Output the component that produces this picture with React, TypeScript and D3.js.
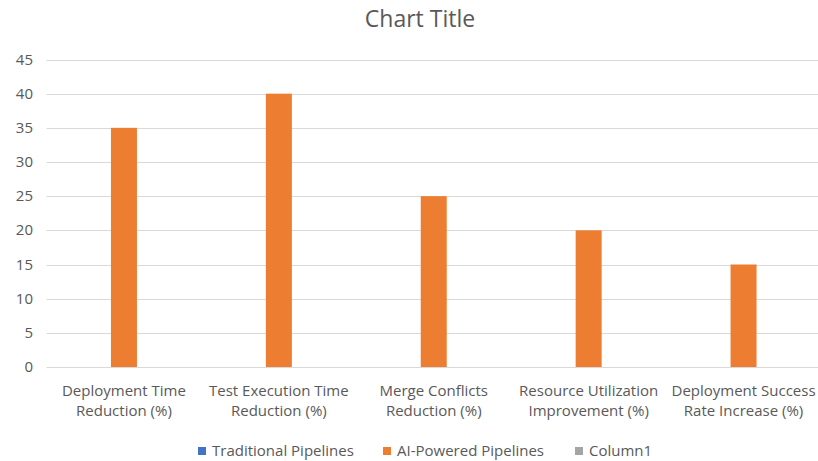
import React from 'react'
import * as d3 from 'd3'

const categories = [
  ['Deployment Time', 'Reduction (%)'],
  ['Test Execution Time', 'Reduction (%)'],
  ['Merge Conflicts', 'Reduction (%)'],
  ['Resource Utilization', 'Improvement (%)'],
  ['Deployment Success', 'Rate Increase (%)'],
]
const seriesNames = ['Traditional Pipelines', 'AI-Powered Pipelines', 'Column1']
const seriesColors = ['#4472C4', '#ED7D31', '#A5A5A5']
const traditional = [0, 0, 0, 0, 0]
const aiPowered = [35, 40, 25, 20, 15]
const column1 = [0, 0, 0, 0, 0]
const yTicks = [0, 5, 10, 15, 20, 25, 30, 35, 40, 45]

const width = 818
const height = 461
const font = '"Open Sans", sans-serif'
const textColor = '#595959'

export default function App() {
  const values = [traditional, aiPowered, column1]
  const labels = categories.map(c => c.join(' '))

  const x = d3.scaleBand().domain(labels).range([46.5, 821])
  const x1 = d3.scaleBand().domain(seriesNames).range([0, 78])
  const y = d3.scaleLinear().domain([0, 45]).range([367, 59.5])
  const barOffset = (x.bandwidth() - x1.range()[1]) / 2

  const legendX = [198, 383, 575]

  return <svg width={width} height={height} style={{ position: 'absolute', left: 0, top: 0, background: '#fff' }}>
    <rect width={width} height={height} fill="#fff" />
    <text x={420} y={27} textAnchor="middle" fontFamily={font} fontSize={23} fill={textColor}>Chart Title</text>

    {yTicks.map(t => <g key={t}>
      <line x1={46.5} x2={821} y1={Math.round(y(t)) + 0.5} y2={Math.round(y(t)) + 0.5} stroke="#D9D9D9" strokeWidth={1} />
      <text x={33} y={y(t) + 5} textAnchor="end" fontFamily={font} fontSize={15} fill={textColor}>{t}</text>
    </g>)}

    {labels.map((label, i) => <g key={label} transform={`translate(${x(label)! + barOffset},0)`}>
      {seriesNames.map((s, j) => {
        const v = values[j][i]
        if (!v) return null
        return <rect key={s} x={x1(s)} width={x1.bandwidth()} y={y(v)} height={y(0) - y(v)} fill={seriesColors[j]} />
      })}
    </g>)}

    {labels.map((label, i) => <text key={label} x={x(label)! + x.bandwidth() / 2} textAnchor="middle"
      fontFamily={font} fontSize={15} fill={textColor}>
      {categories[i].map((line, k) => <tspan key={k} x={x(label)! + x.bandwidth() / 2} y={396 + k * 20}>{line}</tspan>)}
    </text>)}

    {seriesNames.map((s, j) => <g key={s} transform={`translate(${legendX[j]},0)`}>
      <rect x={0} y={447} width={8} height={8} fill={seriesColors[j]} />
      <text x={14} y={456} fontFamily={font} fontSize={15} fill={textColor}>{s}</text>
    </g>)}
  </svg>
}
